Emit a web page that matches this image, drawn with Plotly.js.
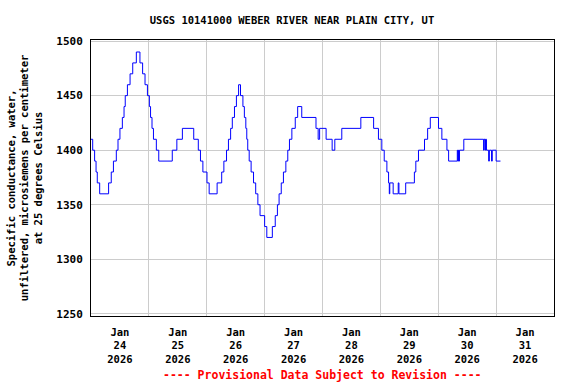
<!DOCTYPE html>
<html><head><meta charset="utf-8">
<script src="https://cdn.plot.ly/plotly-3.0.1.min.js"></script>
<style>html,body{margin:0;padding:0;background:#fff}</style>
</head><body><div id="chart" style="width:576px;height:384px"></div>
<script>
// Start of record (local time) and hours since start for each reading
const startDate = Date.UTC(2026, 0, 24, 0, 0, 0);
const hoursSinceStart = [
  0.0,0.7,1.5,2.1,2.6,3.6,7.3,8.4,9.3,10.5,11.2,12.0,13.0,13.7,14.2,15.1,16.2,17.3,18.8,20.3,
  21.4,22.4,23.4,24.2,24.7,25.3,25.9,27.1,28.1,33.7,35.6,37.9,42.6,44.5,45.4,46.4,48.1,49.0,52.3,54.2,
  55.1,56.2,57.0,57.9,58.6,59.5,60.3,61.2,62.0,63.0,63.6,64.2,64.6,65.0,65.6,66.4,67.4,68.3,69.2,70.1,
  72.0,72.9,75.2,76.4,77.3,78.0,78.9,79.8,80.8,81.6,82.3,83.3,84.7,85.7,87.4,93.3,94.2,94.8,97.5,100.0,
  101.1,104.0,111.9,117.2,119.2,120.6,121.6,122.7,123.4,123.7,123.9,125.3,127.4,127.7,130.5,134.1,134.7,135.8,138.3,139.6,
  140.7,144.1,145.5,147.6,148.3,151.9,152.1,152.4,152.6,152.8,154.6,162.8,163.0,163.4,163.6,164.0,164.9,165.2,166.1,166.4,
  168.0,169.8
];
const conductance = [
  1410,1400,1390,1380,1370,1360,1370,1380,1390,1400,1410,1420,1430,1440,1450,1460,1470,1480,1490,1480,
  1470,1460,1450,1440,1430,1420,1410,1400,1390,1400,1410,1420,1410,1400,1390,1380,1370,1360,1370,1380,
  1390,1400,1410,1420,1430,1440,1450,1460,1450,1440,1430,1420,1410,1400,1390,1380,1370,1360,1350,1340,
  1330,1320,1330,1340,1350,1360,1370,1380,1390,1400,1410,1420,1430,1440,1430,1420,1410,1420,1410,1400,
  1410,1420,1430,1420,1410,1400,1390,1380,1370,1360,1370,1360,1370,1360,1370,1380,1390,1400,1410,1420,
  1430,1420,1410,1400,1390,1400,1390,1400,1390,1400,1410,1400,1410,1400,1410,1400,1390,1400,1390,1400,
  1390,1390
];
const tickDates = ['2026-01-24 12:00','2026-01-25 12:00','2026-01-26 12:00','2026-01-27 12:00',
                   '2026-01-28 12:00','2026-01-29 12:00','2026-01-30 12:00','2026-01-31 12:00'];
const tickLabels = ['Jan<br>24<br>2026','Jan<br>25<br>2026','Jan<br>26<br>2026','Jan<br>27<br>2026',
                    'Jan<br>28<br>2026','Jan<br>29<br>2026','Jan<br>30<br>2026','Jan<br>31<br>2026'];
const yTicks = [1250,1300,1350,1400,1450,1500];

const toStr = h => new Date(startDate + h*3600000).toISOString().slice(0,19).replace('T',' ');
const times = hoursSinceStart.map(toStr);

const mono = 'DejaVu Sans Mono, Liberation Mono, monospace';
const trace = {
  x: times, y: conductance, type: 'scatter', mode: 'lines',
  line: {color: '#0000ff', width: 1, shape: 'hv'}, hoverinfo: 'skip'
};
const layout = {
  width: 576, height: 384,
  margin: {l: 91, r: 22, t: 40, b: 68},
  paper_bgcolor: '#ffffff', plot_bgcolor: '#ffffff',
  showlegend: false,
  font: {family: mono, size: 11, color: '#000', weight: 'bold'},
  title: {text: 'USGS 10141000 WEBER RIVER NEAR PLAIN CITY, UT',
          font: {family: mono, size: 10.5, color: '#000', weight: 'bold'},
          x: 0.507, xanchor: 'center', y: 0.948, yanchor: 'middle', xref: 'container', yref: 'container'},
  xaxis: {
    type: 'date', range: ['2026-01-24 00:00', '2026-02-01 00:00'],
    tickmode: 'array', tickvals: tickDates, ticktext: tickLabels,
    showgrid: false, zeroline: false,
    ticks: 'outside', ticklen: 6, tickcolor: 'rgba(0,0,0,0)',
    tickfont: {family: mono, size: 10.5, color: '#000', weight: 'bold'},
    showline: true, linecolor: '#000', linewidth: 1, mirror: true,
    minor: {tick0: '2026-01-24', dtick: 86400000, showgrid: true, gridcolor: '#cccccc', gridwidth: 1, ticklen: 0},
    fixedrange: true
  },
  yaxis: {
    range: [1248, 1501], tickmode: 'array', tickvals: yTicks,
    showgrid: true, gridcolor: '#cccccc', gridwidth: 1, zeroline: false,
    ticks: 'outside', ticklen: 5, tickcolor: 'rgba(0,0,0,0)',
    tickfont: {family: mono, size: 11, color: '#000', weight: 'bold'},
    showline: true, linecolor: '#000', linewidth: 1, mirror: true,
    automargin: false,
    title: {text: 'Specific conductance, water,<br>unfiltered, microsiemens per centimeter<br>at 25 degrees Celsius',
            font: {family: mono, size: 10.5, color: '#000', weight: 'bold'}, standoff: 11},
    fixedrange: true
  },
  annotations: [{
    text: '---- Provisional Data Subject to Revision ----',
    xref: 'paper', yref: 'paper', x: 0.5, y: -0.214, xanchor: 'center', yanchor: 'middle',
    showarrow: false, font: {family: mono, size: 11.5, color: '#ff0000', weight: 'bold'}
  }]
};
Plotly.newPlot('chart', [trace], layout, {displayModeBar: false, staticPlot: true});
</script></body></html>
